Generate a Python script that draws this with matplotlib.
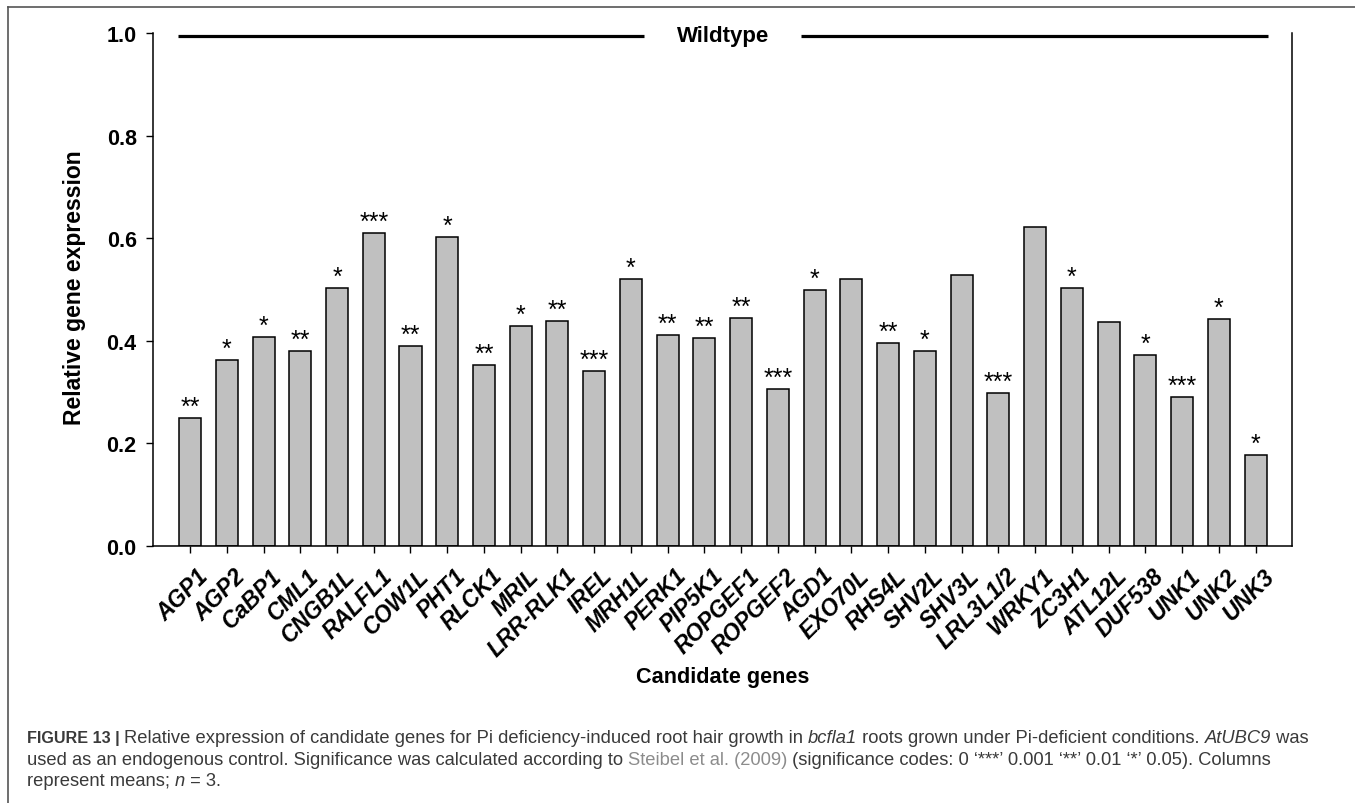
import matplotlib
matplotlib.use("Agg")
import matplotlib.pyplot as plt
import matplotlib.transforms as mtransforms
from matplotlib.lines import Line2D
import numpy as np

# ---------------- data ----------------
genes = ["AGP1", "AGP2", "CaBP1", "CML1", "CNGB1L", "RALFL1", "COW1L", "PHT1",
         "RLCK1", "MRIL", "LRR-RLK1", "IREL", "MRH1L", "PERK1", "PIP5K1",
         "ROPGEF1", "ROPGEF2", "AGD1", "EXO70L", "RHS4L", "SHV2L", "SHV3L",
         "LRL3L1/2", "WRKY1", "ZC3H1", "ATL12L", "DUF538", "UNK1", "UNK2", "UNK3"]
expression = [0.250, 0.363, 0.408, 0.380, 0.502, 0.611, 0.389, 0.602,
              0.352, 0.428, 0.438, 0.340, 0.520, 0.412, 0.406,
              0.445, 0.305, 0.499, 0.521, 0.396, 0.380, 0.529,
              0.298, 0.622, 0.503, 0.437, 0.372, 0.291, 0.443, 0.177]
significance = ["**", "*", "*", "**", "*", "***", "**", "*",
                "**", "*", "**", "***", "*", "**", "**",
                "**", "***", "*", "", "**", "*", "",
                "***", "", "*", "", "*", "***", "*", "*"]
yticks = [0.0, 0.2, 0.4, 0.6, 0.8, 1.0]
group_label = "Wildtype"
xlabel = "Candidate genes"
ylabel = "Relative gene expression"

FONT = ["Liberation Sans", "DejaVu Sans"]
plt.rcParams["font.family"] = FONT

W, H = 1355, 804
fig = plt.figure(figsize=(W / 100, H / 100), dpi=100)
fig.patch.set_facecolor("white")

# axes placement (pixels -> figure fraction)
ax_l, ax_r, ax_t, ax_b = 153.3, 1292.3, 34.3, 546.7
ax = fig.add_axes([ax_l / W, 1 - ax_b / H, (ax_r - ax_l) / W, (ax_b - ax_t) / H])

x = np.arange(len(genes))
ax.bar(x, expression, width=0.6, color="#c0c0c0", edgecolor="black", linewidth=1.1, zorder=2)

ax.set_xlim(-1, len(genes))
ax.set_ylim(0, 1.0)
ax.set_yticks(yticks)
ax.set_yticklabels([f"{v:.1f}" for v in yticks], fontsize=15.5, fontweight="bold")
ax.set_xticks(x)
ax.set_xticklabels(genes, rotation=45, ha="right", va="top", rotation_mode="anchor",
                   fontsize=16.5, fontweight="bold", fontstyle="italic")
ax.tick_params(axis="y", direction="out", length=5, width=1.0, pad=7)
ax.tick_params(axis="x", direction="out", length=5, width=1.0, pad=2)
offset = mtransforms.ScaledTranslation(5 / 72, -6 / 72, fig.dpi_scale_trans)
for lab in ax.get_xticklabels():
    lab.set_transform(lab.get_transform() + offset)

for side in ["left", "bottom", "right"]:
    ax.spines[side].set_linewidth(1.1)
ax.spines["top"].set_visible(False)

# significance stars
for xi, v, s in zip(x, expression, significance):
    if s:
        ax.annotate(s, (xi, v), xytext=(0, 3), textcoords="offset points",
                    ha="center", va="baseline", fontsize=18)

# Wildtype group line
yline = 0.9953
center = (len(genes) - 1) / 2
x0, x1 = -1 / 3, len(genes) - 1 + 1 / 3
gap = 2.14
ax.plot([x0, center - gap], [yline, yline], color="black", lw=2.3, clip_on=False, solid_capstyle="butt")
ax.plot([center + gap, x1], [yline, yline], color="black", lw=2.3, clip_on=False, solid_capstyle="butt")
ax.text(center, yline, group_label, ha="center", va="center", fontsize=16, fontweight="bold")

# axis labels
fig.text(75 / W, 1 - 288 / H, ylabel, rotation=90, ha="center", va="center",
         fontsize=16.5, fontweight="bold")
fig.text(722.8 / W, 1 - 683 / H, xlabel, ha="center", va="baseline",
         fontsize=15.6, fontweight="bold")

# frame around figure panel
fig.add_artist(Line2D([8.3 / W, 8.3 / W], [0, 1 - 8.3 / H], color="#555555", lw=1.2,
                      transform=fig.transFigure))
fig.add_artist(Line2D([8.3 / W, 1], [1 - 8.3 / H, 1 - 8.3 / H], color="#555555", lw=1.2,
                      transform=fig.transFigure))

# caption with mixed styles
TXT = "#3a3a3a"
LINK = "#8c8c8c"
reg_size = 13.2
bold_size = 11.6
lines = [
    [("FIGURE 13 | ", "bold", "normal", TXT),
     ("Relative expression of candidate genes for Pi deficiency-induced root hair growth in ", "normal", "normal", TXT),
     ("bcfla1", "normal", "italic", TXT),
     (" roots grown under Pi-deficient conditions. ", "normal", "normal", TXT),
     ("AtUBC9", "normal", "italic", TXT),
     (" was", "normal", "normal", TXT)],
    [("used as an endogenous control. Significance was calculated according to ", "normal", "normal", TXT),
     ("Steibel et al. (2009)", "normal", "normal", LINK),
     (" (significance codes: 0 \u2018***\u2019 0.001 \u2018**\u2019 0.01 \u2018*\u2019 0.05). Columns", "normal", "normal", TXT)],
    [("represent means; ", "normal", "normal", TXT),
     ("n", "normal", "italic", TXT),
     (" = 3.", "normal", "normal", TXT)],
]
baselines = [743, 765, 786]
renderer = fig.canvas.get_renderer()
for segs, by in zip(lines, baselines):
    xpos = 26.7
    for s, wt, st, col in segs:
        size = bold_size if wt == "bold" else reg_size
        t = fig.text(xpos / W, 1 - by / H, s, fontsize=size, fontweight=wt, fontstyle=st,
                     color=col, ha="left", va="baseline")
        bb = t.get_window_extent(renderer=renderer)
        xpos += bb.width

fig.savefig("out.png", dpi=100, facecolor="white")
